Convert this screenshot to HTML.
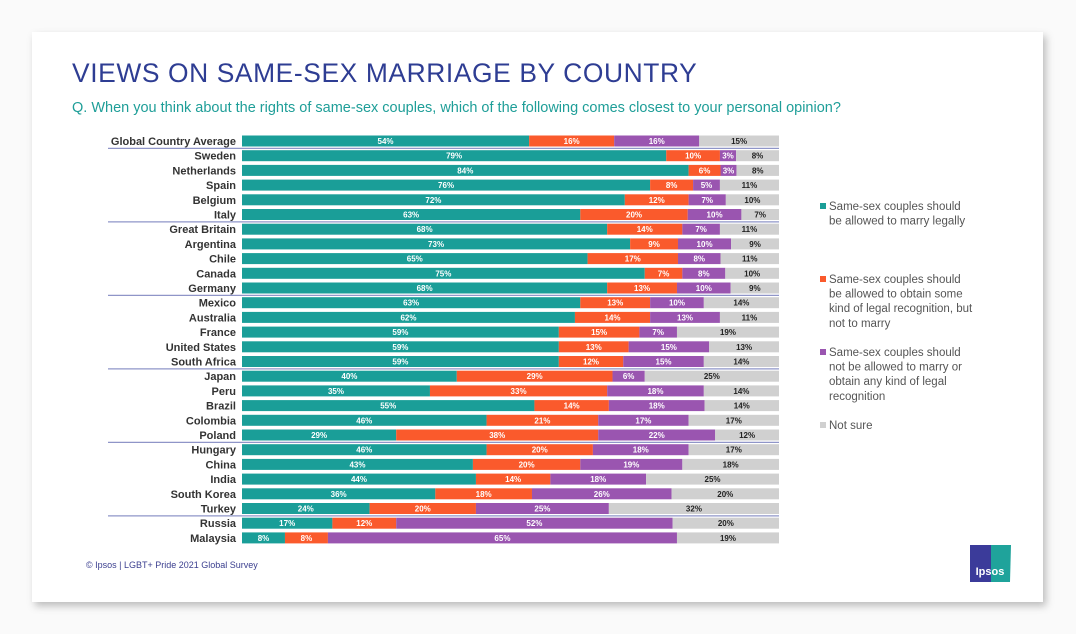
<!DOCTYPE html>
<html><head><meta charset="utf-8">
<style>
body{margin:0;background:#fff;}
svg{display:block;font-family:"Liberation Sans",Arial,sans-serif;}
</style></head>
<body>
<svg id="chart" width="1076" height="634" viewBox="0 0 1076 634">
<defs><filter id="sh" x="-5%" y="-5%" width="110%" height="115%"><feDropShadow dx="3" dy="4" stdDeviation="4" flood-color="#000" flood-opacity="0.25"/></filter></defs>
<rect x="0" y="0" width="1076" height="634" fill="#fafafa"/>
<rect x="32" y="32" width="1011" height="570" fill="#fff" filter="url(#sh)"/>
<text x="72" y="82" font-size="26.4" fill="#2e3d93" letter-spacing="0.6">VIEWS ON SAME-SEX MARRIAGE BY COUNTRY</text>
<text x="72" y="112" font-size="14.5" fill="#1e9e98">Q. When you think about the rights of same-sex couples, which of the following  comes closest to your personal opinion?</text>
<g id="bars"></g>
<g id="legend"></g>
<text x="86" y="568" font-size="9" fill="#3b3f8f">© Ipsos | LGBT+ Pride 2021 Global Survey</text>
<g>
<rect x="970" y="545" width="21" height="37" fill="#3b3b9a"/>
<path d="M991 545 L1011 545 L1010 582 L991 582 Z" fill="#1fa39b"/>
<text x="990" y="575" font-size="11" font-weight="bold" fill="#fff" text-anchor="middle">Ipsos</text>
</g>
</svg>
<script>
const countries=["Global Country Average","Sweden","Netherlands","Spain","Belgium","Italy","Great Britain","Argentina","Chile","Canada","Germany","Mexico","Australia","France","United States","South Africa","Japan","Peru","Brazil","Colombia","Poland","Hungary","China","India","South Korea","Turkey","Russia","Malaysia"];
const marry=[54,79,84,76,72,63,68,73,65,75,68,63,62,59,59,59,40,35,55,46,29,46,43,44,36,24,17,8];
const legal=[16,10,6,8,12,20,14,9,17,7,13,13,14,15,13,12,29,33,14,21,38,20,20,14,18,20,12,8];
const notAllowed=[16,3,3,5,7,10,7,10,8,8,10,10,13,7,15,15,6,18,18,17,22,18,19,18,26,25,52,65];
const notSure=[15,8,8,11,10,7,11,9,11,10,9,14,11,19,13,14,25,14,14,17,12,17,18,25,20,32,20,19];
const seriesNames=["Same-sex couples should be allowed to marry legally","Same-sex couples should be allowed to obtain some kind of legal recognition, but not to marry","Same-sex couples should not be allowed to marry or obtain any kind of legal recognition","Not sure"];
const separatorsAfter=[0,5,10,15,20,25];

const NS="http://www.w3.org/2000/svg";
const colors=["#1a9e98","#fa5a2c","#9a55b0","#d0d0d0"];
const x0=242,x1=779,yTop=141,pitch=14.7,bh=11;
const xs=v=>v/100*(x1-x0);
const yRow=i=>yTop+i*pitch;
const g=document.getElementById('bars');
function mk(t,a,p){const e=document.createElementNS(NS,t);for(const k in a)e.setAttribute(k,a[k]);p.appendChild(e);return e;}
const series=[marry,legal,notAllowed,notSure];
countries.forEach((c,i)=>{
  const y=yRow(i);
  const lab=mk('text',{x:236,y:y+4,'font-size':11,'font-weight':'bold','fill':'#333','text-anchor':'end'},g);
  lab.textContent=c;
  
  
  const tot=series.reduce((s,a)=>s+a[i],0);
  let cx=x0;
  series.forEach((arr,k)=>{
    const w=arr[i]/tot*100;
    const r=mk('rect',{x:cx,y:y-bh/2,width:xs(w),height:bh,fill:colors[k]},g);
    
    
    const t=mk('text',{x:cx+xs(w)/2,y:y+3,'font-size':8,'font-weight':'bold',fill:k==3?'#222':'#fff','text-anchor':'middle'},g);
    t.textContent=arr[i]+'%';
    
    
    cx+=xs(w);
  });
});
separatorsAfter.forEach(i=>{
  const y=(yRow(i)+yRow(i+1))/2;
  const l=mk('line',{x1:108,x2:779,y1:y,y2:y,stroke:'#8f95c8','stroke-width':1.2},g);
  
  
});
const lg=document.getElementById('legend');
const lines=[["Same-sex couples should","be allowed to marry legally"],["Same-sex couples should","be allowed to obtain some","kind of legal recognition, but","not to marry"],["Same-sex couples should","not be allowed to marry or","obtain any kind of legal","recognition"],["Not sure"]];
const ly=[210,283,356,429];
lines.forEach((ls,k)=>{
  const s=mk('rect',{x:820,y:ly[k]-7,width:6,height:6,fill:colors[k]},lg);
  
  
  const t=mk('text',{x:829,y:ly[k],'font-size':11.5,fill:'#555'},lg);
  
  
  ls.forEach((s2,j)=>{const ts=mk('tspan',{x:829,y:ly[k]+j*14.6},t);ts.textContent=s2;});
});
</script>
</body></html>
